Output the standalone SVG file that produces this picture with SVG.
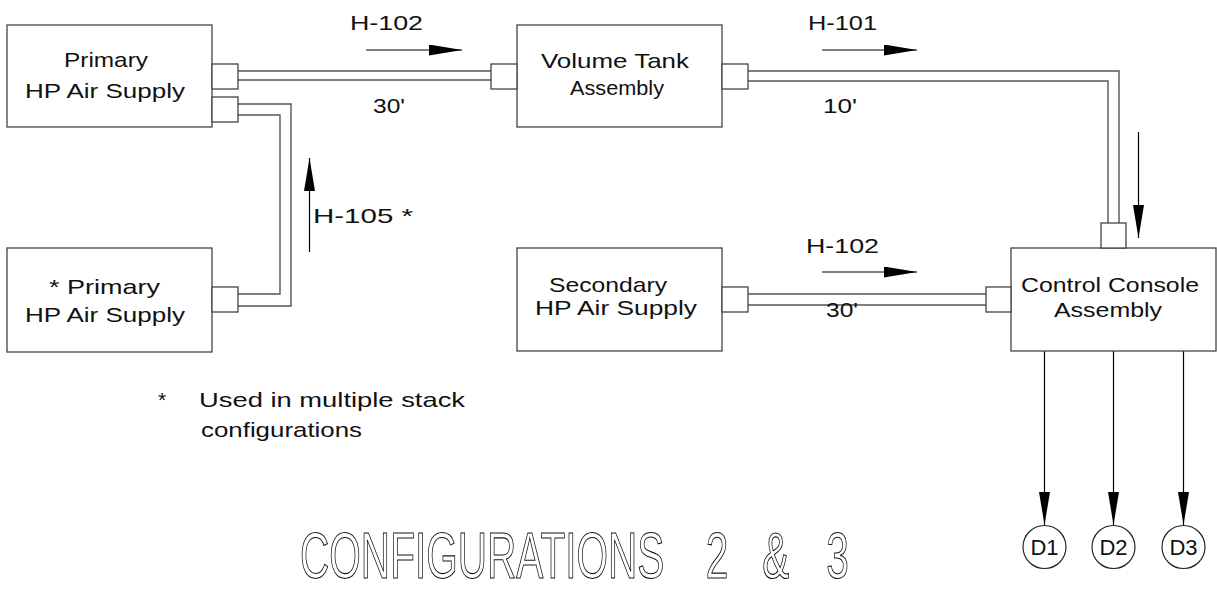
<svg xmlns="http://www.w3.org/2000/svg" width="1217" height="592" viewBox="0 0 1217 592">
<style>
.box{fill:#fff;stroke:#444;stroke-width:1.3}
.port{fill:#fff;stroke:#444;stroke-width:1.3}
.pipe{fill:none;stroke:#555;stroke-width:1.4}
.arr{fill:none;stroke:#000;stroke-width:1.2}
.t{font-family:"Liberation Sans",Arial,sans-serif;font-size:21px;fill:#111}
.d{font-family:"Liberation Sans",Arial,sans-serif;font-size:22px;fill:#111;text-anchor:middle}
.title{font-family:"Liberation Sans",Arial,sans-serif;font-size:64px;fill:none;stroke:#111;stroke-width:1.1}
.circ{fill:#fff;stroke:#222;stroke-width:1.2}
</style>
<defs>
<marker id="ah" markerUnits="userSpaceOnUse" markerWidth="34" markerHeight="12" refX="33" refY="5.5" orient="auto">
<path d="M0,0 L33,5.5 L0,11 Z" fill="#000"/>
</marker>
</defs>
<rect width="1217" height="592" fill="#fff"/>
<g id="connectors">
<path class="pipe" d="M238,71 H491 M238,80 H491"/>
<path class="pipe" d="M238,104 H291 V306 H238 M238,115 H280 V294 H238"/>
<path class="pipe" d="M748,71 H1119 V223 M748,81 H1108 V223"/>
<path class="pipe" d="M748,294 H986 M748,305 H986"/>
<line class="arr" x1="366" y1="50" x2="462" y2="50" marker-end="url(#ah)"/>
<line class="arr" x1="822" y1="50" x2="917" y2="50" marker-end="url(#ah)"/>
<line class="arr" x1="822" y1="272" x2="917" y2="272" marker-end="url(#ah)"/>
<line class="arr" x1="309.5" y1="252" x2="309.5" y2="158" marker-end="url(#ah)"/>
<line class="arr" x1="1138.5" y1="132" x2="1138.5" y2="238" marker-end="url(#ah)"/>
<line class="arr" x1="1044.5" y1="351" x2="1044.5" y2="525" marker-end="url(#ah)"/>
<line class="arr" x1="1113.5" y1="351" x2="1113.5" y2="525" marker-end="url(#ah)"/>
<line class="arr" x1="1183.5" y1="351" x2="1183.5" y2="525" marker-end="url(#ah)"/>
<text class="t" x="350" y="30" textLength="73" lengthAdjust="spacingAndGlyphs">H-102</text>
<text class="t" x="373" y="113" textLength="32" lengthAdjust="spacingAndGlyphs">30'</text>
<text class="t" x="808" y="30" textLength="69" lengthAdjust="spacingAndGlyphs">H-101</text>
<text class="t" x="823" y="113" textLength="34" lengthAdjust="spacingAndGlyphs">10'</text>
<text class="t" x="313" y="223" textLength="100" lengthAdjust="spacingAndGlyphs">H-105 *</text>
<text class="t" x="806" y="253" textLength="73" lengthAdjust="spacingAndGlyphs">H-102</text>
<text class="t" x="826" y="317" textLength="32" lengthAdjust="spacingAndGlyphs">30'</text>
</g>
<g id="primary-1">
<rect class="box" x="7" y="25" width="205" height="102"/>
<rect class="port" x="212" y="64" width="26" height="25"/>
<rect class="port" x="212" y="97" width="26" height="25"/>
<text class="t" x="64" y="67" textLength="84" lengthAdjust="spacingAndGlyphs">Primary</text>
<text class="t" x="25" y="98" textLength="160" lengthAdjust="spacingAndGlyphs">HP Air Supply</text>
</g>
<g id="volume-tank">
<rect class="box" x="517" y="25" width="205" height="102"/>
<rect class="port" x="491" y="64" width="26" height="25"/>
<rect class="port" x="722" y="64" width="26" height="25"/>
<text class="t" x="541" y="68" textLength="148" lengthAdjust="spacingAndGlyphs">Volume Tank</text>
<text class="t" x="570" y="95" textLength="94" lengthAdjust="spacingAndGlyphs">Assembly</text>
</g>
<g id="primary-2">
<rect class="box" x="7" y="248" width="205" height="104"/>
<rect class="port" x="212" y="287" width="26" height="25"/>
<text class="t" x="49" y="294" textLength="111" lengthAdjust="spacingAndGlyphs">* Primary</text>
<text class="t" x="25" y="322" textLength="160" lengthAdjust="spacingAndGlyphs">HP Air Supply</text>
</g>
<g id="secondary">
<rect class="box" x="517" y="248" width="205" height="103"/>
<rect class="port" x="722" y="287" width="26" height="25"/>
<text class="t" x="549" y="292" textLength="118" lengthAdjust="spacingAndGlyphs">Secondary</text>
<text class="t" x="535" y="315" textLength="162" lengthAdjust="spacingAndGlyphs">HP Air Supply</text>
</g>
<g id="control-console">
<rect class="box" x="1011" y="248" width="205" height="103"/>
<rect class="port" x="986" y="287" width="25" height="25"/>
<rect class="port" x="1101" y="223" width="25" height="25"/>
<text class="t" x="1021" y="292" textLength="178" lengthAdjust="spacingAndGlyphs">Control Console</text>
<text class="t" x="1054" y="317" textLength="108" lengthAdjust="spacingAndGlyphs">Assembly</text>
</g>
<g id="d1">
<circle class="circ" cx="1044.5" cy="547" r="21.5"/>
<text class="d" x="1044.5" y="555">D1</text>
</g>
<g id="d2">
<circle class="circ" cx="1113.5" cy="547" r="21.5"/>
<text class="d" x="1113.5" y="555">D2</text>
</g>
<g id="d3">
<circle class="circ" cx="1183.5" cy="547" r="21.5"/>
<text class="d" x="1183.5" y="555">D3</text>
</g>
<g id="notes">
<text class="t" x="158" y="407">*</text>
<text class="t" x="199" y="407" textLength="266" lengthAdjust="spacingAndGlyphs">Used in multiple stack</text>
<text class="t" x="201" y="437" textLength="161" lengthAdjust="spacingAndGlyphs">configurations</text>
<text class="title" transform="translate(300,578) scale(0.634,1)"><tspan x="0">CONFIGURATIONS</tspan><tspan x="640">2</tspan><tspan x="729">&amp;</tspan><tspan x="830">3</tspan></text>
</g>
</svg>
